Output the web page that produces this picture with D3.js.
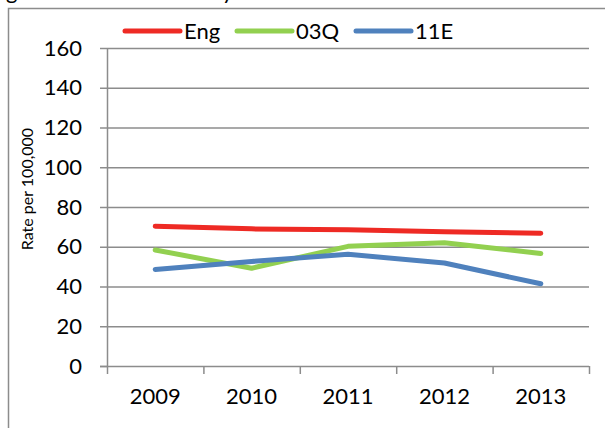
<!DOCTYPE html>
<html>
<head>
<meta charset="utf-8">
<script src="https://cdn.jsdelivr.net/npm/d3@7"></script>
<style>
  body { margin: 0; background: #fff; }
  svg { display: block; font-family: Lato, "Open Sans", sans-serif; }
</style>
</head>
<body>
<div id="chart"></div>
<script>
// data
var years = ["2009", "2010", "2011", "2012", "2013"];
var eng = [70.3, 69.0, 68.5, 67.5, 66.8];
var q03 = [58.4, 49.2, 60.2, 62.0, 56.6];
var e11 = [48.6, 52.6, 56.2, 51.8, 41.4];
var seriesNames = ["Eng", "03Q", "11E"];
var yTicks = [0, 20, 40, 60, 80, 100, 120, 140, 160];

var colors = ["#ee2a24", "#92d050", "#4f81bd"];
var seriesValues = [eng, q03, e11];

var width = 605, height = 428;
var plotLeft = 107, plotRight = 589, plotTop = 48, plotBottom = 366;
var grey = "#8c8c8c";

var svg = d3.select("#chart")
  .append("svg")
    .attr("width", width)
    .attr("height", height);

// outer frame (partly cut off)
svg.append("path")
  .attr("d", "M8.5," + height + "V8.5H" + width)
  .attr("fill", "none")
  .attr("stroke", grey)
  .attr("stroke-width", 1.5);

// title, only its descenders show at the top edge
svg.append("text")
  .attr("x", 6)
  .attr("y", -1)
  .style("font-size", "22px")
  .text("g")
  .append("tspan")
    .attr("x", 222)
    .text("y");

var x = d3.scaleBand().domain(years).range([plotLeft, plotRight]);
var xEdge = d3.scaleLinear().domain([0, years.length]).range([plotLeft, plotRight]);
var y = d3.scaleLinear().domain([0, 160]).range([plotBottom, plotTop]);

// gridlines
svg.append("g")
  .attr("transform", "translate(" + plotLeft + ",0)")
  .call(d3.axisLeft(y).tickValues(yTicks.slice(1)).tickSize(-(plotRight - plotLeft)).tickFormat(""))
  .call(function(g) { g.select(".domain").remove(); })
  .selectAll("line")
    .attr("stroke", grey)
    .attr("stroke-width", 1.5);

// y axis
var yAxis = svg.append("g")
  .attr("transform", "translate(" + plotLeft + ",0)")
  .call(d3.axisLeft(y).tickValues(yTicks).tickSize(7).tickSizeOuter(0).tickPadding(18));
yAxis.select(".domain").attr("stroke", grey).attr("stroke-width", 1.5);
yAxis.selectAll("line").attr("stroke", grey).attr("stroke-width", 1.5);
yAxis.selectAll("text")
  .attr("fill", "#000")
  .style("font-size", "22px")
  .style("font-family", "Lato, sans-serif");

// x axis: ticks at category edges
var xAxis = svg.append("g")
  .attr("transform", "translate(0," + plotBottom + ")")
  .call(d3.axisBottom(xEdge).tickValues(d3.range(years.length + 1)).tickFormat("").tickSize(8).tickSizeOuter(0));
xAxis.select(".domain").attr("stroke", grey).attr("stroke-width", 1.5).attr("d", "M" + (plotLeft - 7) + ",0.5H" + plotRight);
xAxis.selectAll("line").attr("stroke", grey).attr("stroke-width", 1.5);

var xLabels = svg.append("g")
  .attr("transform", "translate(0," + plotBottom + ")")
  .call(d3.axisBottom(x).tickSize(0).tickPadding(22));
xLabels.select(".domain").remove();
xLabels.selectAll("text")
  .attr("fill", "#000")
  .style("font-size", "22px")
  .style("font-family", "Lato, sans-serif");

// y axis title
svg.append("text")
  .attr("transform", "translate(33," + 189 + ") rotate(-90)")
  .attr("text-anchor", "middle")
  .style("font-size", "16px")
  .text("Rate per 100,000");

// lines
var line = d3.line()
  .x(function(d, i) { return x(years[i]) + x.bandwidth() / 2; })
  .y(function(d) { return y(d); });

seriesValues.forEach(function(vals, k) {
  svg.append("path")
    .datum(vals)
    .attr("d", line)
    .attr("fill", "none")
    .attr("stroke", colors[k])
    .attr("stroke-width", 5)
    .attr("stroke-linecap", "round")
    .attr("stroke-linejoin", "round");
});

// legend
var legendX = [125, 237, 356];
var legend = svg.append("g");
seriesNames.forEach(function(name, k) {
  legend.append("line")
    .attr("x1", legendX[k]).attr("x2", legendX[k] + 55)
    .attr("y1", 31).attr("y2", 31)
    .attr("stroke", colors[k])
    .attr("stroke-width", 5)
    .attr("stroke-linecap", "round");
  legend.append("text")
    .attr("x", legendX[k] + 59)
    .attr("y", 39)
    .style("font-size", "22px")
    .text(name);
});
</script>
</body>
</html>
